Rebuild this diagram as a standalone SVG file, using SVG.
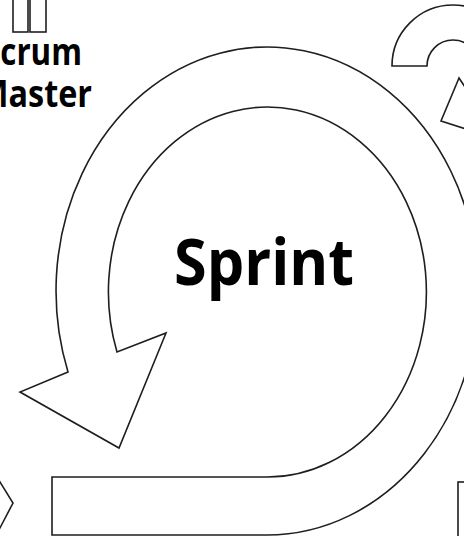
<svg xmlns="http://www.w3.org/2000/svg" width="464" height="536" viewBox="0 0 464 536">
  <style>
    .shape { fill: #ffffff; stroke: #1e1e1e; stroke-width: 1.6; stroke-linejoin: miter; }
    .label { font-family: "Open Sans", "DejaVu Sans", sans-serif; font-weight: bold; fill: #000000; }
  </style>
  <rect x="0" y="0" width="464" height="536" fill="#ffffff"/>

  <g id="scrum-master">
    <rect class="shape" x="13" y="-4" width="15" height="36"/>
    <rect class="shape" x="30" y="-4" width="16" height="36"/>
    <text class="label" x="-17" y="65" font-size="38" textLength="99" lengthAdjust="spacingAndGlyphs">Scrum</text>
    <text class="label" x="-22" y="107" font-size="38" textLength="114" lengthAdjust="spacingAndGlyphs">Master</text>
  </g>

  <g id="daily-loop">
    <path class="shape" d="M 427,66 L 392,66 A 61,61 0 0 1 514,66 L 479,66 A 26,26 0 0 0 427,66 Z"/>
    <polygon class="shape" points="459,78 441,121 500,140"/>
  </g>

  <g id="sprint">
    <path class="shape" d="M 52,477 L 267,477 A 159,185 0 1 0 117,352 L 166,333 L 119,448 L 20,392 L 68,372 A 211,244 0 1 1 267,535 L 52,535 Z"/>
    <text class="label" x="174" y="285" font-size="64" textLength="180" lengthAdjust="spacingAndGlyphs">Sprint</text>
  </g>

  <g id="backlog-arrow">
    <polyline class="shape" fill="none" points="-10,466 13,503 -10,547"/>
  </g>

  <g id="release">
    <rect class="shape" x="458" y="482" width="30" height="70"/>
  </g>

  <g id="connectors"></g>
</svg>
